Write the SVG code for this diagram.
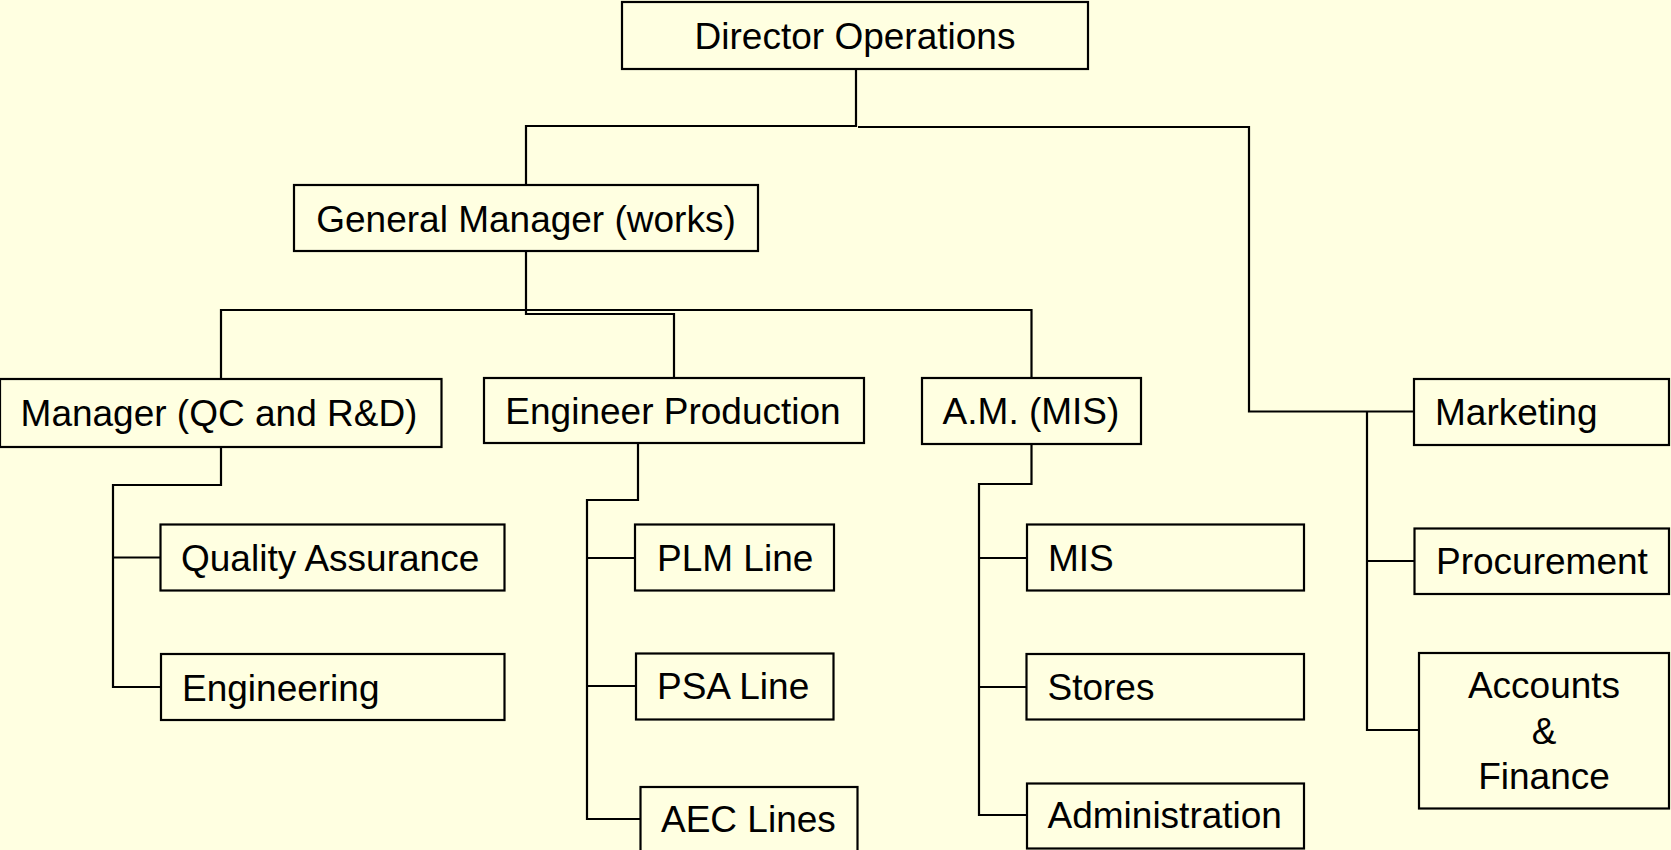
<svg xmlns="http://www.w3.org/2000/svg" width="1671" height="850" viewBox="0 0 1671 850">
<style>
.bg{fill:#FFFFE1}
.box{fill:#FFFFE1;stroke:#000;stroke-width:2.2}
.t{font-family:"Liberation Sans",Arial,sans-serif;font-size:37px;fill:#000}
.c{text-anchor:middle}
.ln{fill:none;stroke:#000;stroke-width:2.2}
</style>
<rect class="bg" x="0" y="0" width="1671" height="850"/>
<g id="connectors">
<path class="ln" d="M856,69 V126 H526 V185"/>
<path class="ln" d="M858,127 H1249 V411.5 H1414"/>
<path class="ln" d="M1367,411.5 V730 H1419 M1367,561 H1414"/>
<path class="ln" d="M526,251 V314 H674 V378"/>
<path class="ln" d="M221,379 V310 H1031.5 V378"/>
<path class="ln" d="M221,447 V485 H113 V687 H161 M113,557.5 H160"/>
<path class="ln" d="M638,443 V500 H587 V819 H640 M587,558 H635 M587,686 H636"/>
<path class="ln" d="M1031.5,444 V484 H979 V815 H1027 M979,558 H1027 M979,687 H1026"/>
</g>
<g id="director"><rect class="box" x="622" y="2" width="466" height="67"/><text class="t c" x="855" y="49">Director Operations</text></g>
<g id="gm"><rect class="box" x="294" y="185" width="464" height="66"/><text class="t c" x="526" y="231.5">General Manager (works)</text></g>
<g id="mgr-qc"><rect class="box" x="0" y="379" width="441.5" height="68"/><text class="t c" x="219" y="426">Manager (QC and R&amp;D)</text></g>
<g id="eng-prod"><rect class="box" x="484" y="378" width="380" height="65"/><text class="t c" x="673" y="424">Engineer Production</text></g>
<g id="am-mis"><rect class="box" x="922" y="378" width="219" height="66"/><text class="t c" x="1031" y="424">A.M. (MIS)</text></g>
<g id="marketing"><rect class="box" x="1414" y="379" width="255" height="66"/><text class="t" x="1435" y="425">Marketing</text></g>
<g id="qa"><rect class="box" x="160.5" y="524.5" width="344" height="66"/><text class="t" x="181" y="571">Quality Assurance</text></g>
<g id="engineering"><rect class="box" x="161" y="654" width="343.5" height="66"/><text class="t" x="182" y="701">Engineering</text></g>
<g id="plm"><rect class="box" x="635" y="524.5" width="199" height="66"/><text class="t" x="657" y="571">PLM Line</text></g>
<g id="psa"><rect class="box" x="636" y="653.5" width="197.5" height="66"/><text class="t" x="657" y="699">PSA Line</text></g>
<g id="aec"><rect class="box" x="640.5" y="787" width="217" height="66"/><text class="t" x="661" y="832">AEC Lines</text></g>
<g id="mis"><rect class="box" x="1027" y="524.5" width="277" height="66"/><text class="t" x="1048" y="571">MIS</text></g>
<g id="stores"><rect class="box" x="1026.5" y="654" width="277.5" height="65.5"/><text class="t" x="1047.5" y="699.5">Stores</text></g>
<g id="admin"><rect class="box" x="1027" y="783.5" width="277" height="65"/><text class="t" x="1047.5" y="828">Administration</text></g>
<g id="procurement"><rect class="box" x="1414.5" y="528.5" width="254.5" height="65.5"/><text class="t" x="1436" y="574">Procurement</text></g>
<g id="accounts"><rect class="box" x="1419" y="653" width="250" height="155.5"/><text class="t c" x="1544" y="698">Accounts</text><text class="t c" x="1544" y="743.5">&amp;</text><text class="t c" x="1544" y="789">Finance</text></g>
</svg>
